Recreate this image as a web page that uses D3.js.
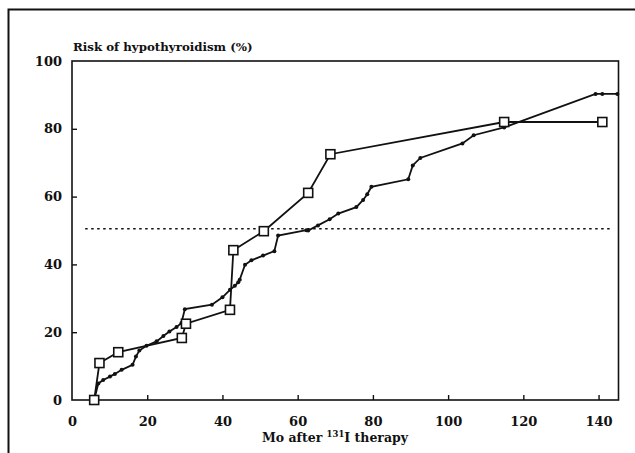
<!DOCTYPE html>
<html>
<head>
<meta charset="utf-8">
<script src="https://cdn.jsdelivr.net/npm/d3@7"></script>
<style>
  body { margin: 0; background: #fff; }
  text { font-family: "DejaVu Serif", "Liberation Serif", serif; font-weight: bold; fill: #111; }
</style>
</head>
<body>
<div class="chart_wrapper"></div>
<script>
// open-square series
const squareMonths = [5.9, 7.3, 12.3, 29.2, 30.3, 42.0, 42.9, 51.0, 62.8, 68.7, 114.9, 141.0]
const squareRisk   = [0, 10.9, 14.1, 18.3, 22.5, 26.6, 44.2, 49.8, 61.1, 72.5, 82.0, 82.0]

// dotted series
const dotMonths = [5.9, 7.0, 8.3, 10.1, 11.4, 13.2, 16.1, 17.0, 17.9, 19.8, 22.5, 24.3, 25.9, 27.8, 29.1,
  30.0, 37.2, 40.0, 42.0, 43.3, 44.2, 44.6, 46.0, 47.7, 50.8, 53.8, 54.8, 62.3, 62.8, 65.4, 68.5, 70.8,
  75.6, 77.4, 78.5, 79.6, 89.4, 90.6, 92.6, 103.8, 106.8, 114.9, 139.2, 141.0, 145.0]
const dotRisk = [0, 4.9, 5.9, 6.9, 7.7, 8.9, 10.4, 12.8, 14.6, 16.0, 17.3, 18.9, 20.2, 21.5, 22.7,
  26.8, 28.1, 30.3, 32.5, 33.7, 34.7, 35.5, 39.9, 41.2, 42.6, 43.9, 48.5, 50.1, 50.0, 51.5, 53.3, 55.0,
  56.9, 59.0, 60.7, 62.9, 65.1, 69.2, 71.4, 75.7, 78.1, 80.4, 90.3, 90.3, 90.3]

const xTicks = [0, 20, 40, 60, 80, 100, 120, 140]
const yTicks = [0, 20, 40, 60, 80, 100]
const medianRisk = 50.5
const medianSpan = [3.5, 143.5]

const width = 635
const height = 453
const margin = { left: 72, right: 16.5, top: 61, bottom: 53 }

const svg = d3.select('.chart_wrapper')
  .append('svg')
  .attr('width', width)
  .attr('height', height)

// outer frame (only top and left edges show)
svg.append('path')
  .attr('d', `M8.5,${height} V9.5 H${width}`)
  .attr('fill', 'none')
  .attr('stroke', '#111')
  .attr('stroke-width', 2)

const x = d3.scaleLinear().domain([0, 145.3]).range([margin.left, width - margin.right])
const y = d3.scaleLinear().domain([0, 100]).range([height - margin.bottom, margin.top])

// plot box
svg.append('rect')
  .attr('x', x(0)).attr('y', y(100))
  .attr('width', x(145.3) - x(0)).attr('height', y(0) - y(100))
  .attr('fill', 'none').attr('stroke', '#111').attr('stroke-width', 1.6)

// axes with inward ticks
const xAxis = svg.append('g')
  .attr('transform', `translate(0,${y(0)})`)
  .call(d3.axisBottom(x).tickValues(xTicks).tickSize(-5).tickPadding(14).tickFormat(d3.format('d')))
xAxis.select('.domain').remove()
xAxis.selectAll('.tick line').attr('stroke', '#111').attr('stroke-width', 1.4)
xAxis.selectAll('.tick').filter(d => d === 0).select('line').remove()
xAxis.selectAll('text').attr('font-size', 13).attr('dy', '0.95em')

const yAxis = svg.append('g')
  .attr('transform', `translate(${x(0)},0)`)
  .call(d3.axisLeft(y).tickValues(yTicks).tickSize(-5).tickPadding(10).tickFormat(d3.format('d')))
yAxis.select('.domain').remove()
yAxis.selectAll('.tick line').attr('stroke', '#111').attr('stroke-width', 1.4)
yAxis.selectAll('.tick').filter(d => d === 0 || d === 100).select('line').remove()
yAxis.selectAll('text').attr('font-size', 13)

// titles
svg.append('text')
  .attr('x', 73).attr('y', 51)
  .attr('font-size', 11.8)
  .text('Risk of hypothyroidism (%)')

const xTitle = svg.append('text')
  .attr('x', 335).attr('y', 442)
  .attr('text-anchor', 'middle')
  .attr('font-size', 12.5)
xTitle.append('tspan').text('Mo after ')
xTitle.append('tspan').attr('font-size', 8.5).attr('dy', -5).text('131')
xTitle.append('tspan').attr('dy', 5).text('I therapy')

// 50% reference line
svg.append('line')
  .attr('x1', x(medianSpan[0])).attr('x2', x(medianSpan[1]))
  .attr('y1', y(medianRisk)).attr('y2', y(medianRisk))
  .attr('stroke', '#111').attr('stroke-width', 1.4)
  .attr('stroke-dasharray', '2.5,3.5')

const line = d3.line().x(d => x(d[0])).y(d => y(d[1]))

const dotData = dotMonths.map((m, i) => [m, dotRisk[i]])
const sqData = squareMonths.map((m, i) => [m, squareRisk[i]])

svg.append('path')
  .datum(dotData)
  .attr('d', line)
  .attr('fill', 'none').attr('stroke', '#111').attr('stroke-width', 1.8)

svg.append('g').selectAll('circle')
  .data(dotData.slice(1))
  .join('circle')
  .attr('cx', d => x(d[0])).attr('cy', d => y(d[1]))
  .attr('r', 2)
  .attr('fill', '#111')

svg.append('path')
  .datum(sqData)
  .attr('d', line)
  .attr('fill', 'none').attr('stroke', '#111').attr('stroke-width', 1.8)

const sq = 9
svg.append('g').selectAll('rect')
  .data(sqData)
  .join('rect')
  .attr('x', d => x(d[0]) - sq / 2).attr('y', d => y(d[1]) - sq / 2)
  .attr('width', sq).attr('height', sq)
  .attr('fill', '#fff').attr('stroke', '#111').attr('stroke-width', 1.6)
</script>
</body>
</html>
